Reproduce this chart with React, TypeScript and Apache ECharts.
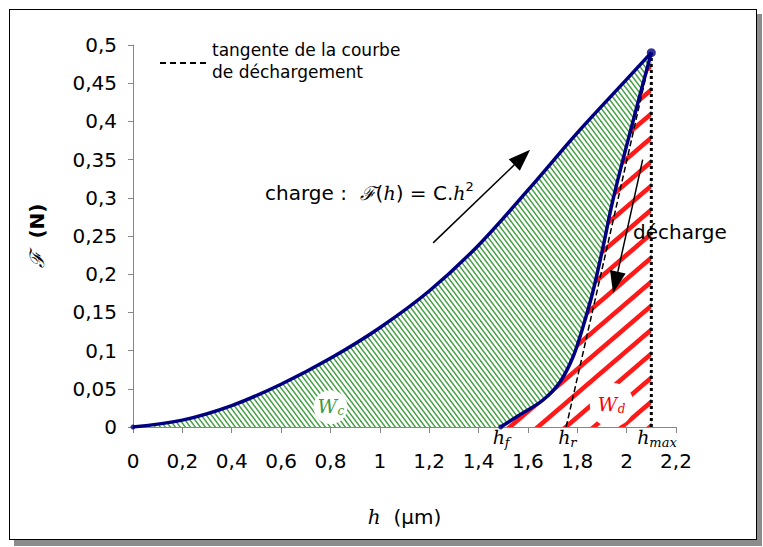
import React, { useEffect, useRef } from "react";
import * as echarts from "echarts";

// Loading curve (charge) : h (µm), F (N)
const hLoad = [0, 0.2, 0.4, 0.6, 0.8, 1.0, 1.2, 1.4, 1.6, 1.8, 2.0, 2.1];
const fLoad = [0, 0.009, 0.028, 0.056, 0.09, 0.13, 0.178, 0.238, 0.31, 0.385, 0.455, 0.49];
// Unloading curve (décharge)
const hUnload = [1.49, 1.57, 1.66, 1.73, 1.783, 1.823, 1.864, 1.904, 1.945, 2.02, 2.1];
const fUnload = [0, 0.0165, 0.035, 0.059, 0.092, 0.131, 0.178, 0.235, 0.298, 0.393, 0.49];
// Tangent to the unloading curve
const hTangent = [2.1, 1.755];
const fTangent = [0.49, 0];
// hmax vertical line
const hMaxLine = [2.1, 2.1];
const fMaxLine = [0, 0.49];
// Labels on the h axis
const hMarkers = [
  { h: 1.49, sub: "f", dx: -8 },
  { h: 1.755, sub: "r", dx: -8 },
  { h: 2.1, sub: "max", dx: -14 },
];
const xMin = 0, xMax = 2.2, xStep = 0.2;
const yMin = 0, yMax = 0.5, yStep = 0.05;

const zip = (a: number[], b: number[]) => a.map((v, i) => [v, b[i]]);
const fmt = (v: number) => String(Math.round(v * 1000) / 1000).replace(".", ",");

function stripes(w: number, h: number, n: number, dir: string, color: string, lw: number) {
  const c = document.createElement("canvas");
  c.width = w;
  c.height = h;
  const ctx = c.getContext("2d")!;
  ctx.fillStyle = "#ffffff";
  ctx.fillRect(0, 0, w, h);
  ctx.strokeStyle = color;
  ctx.lineWidth = lw;
  const p = w / n;
  for (let k = -2 * n; k <= 2 * n; k++) {
    const c0 = k * p;
    ctx.beginPath();
    if (dir === "\\") {
      ctx.moveTo(c0 - w, -h);
      ctx.lineTo(c0 + 2 * w, 2 * h);
    } else {
      ctx.moveTo(c0 - w, 2 * h);
      ctx.lineTo(c0 + 2 * w, -h);
    }
    ctx.stroke();
  }
  return c;
}

const NAVY = "#000080";
const SANS = "DejaVu Sans";
const SERIF = "DejaVu Serif";
const SMOOTH = 0.35;

export default function App() {
  const ref = useRef<HTMLDivElement>(null);
  useEffect(() => {
    if (!ref.current) return;
    const chart = echarts.init(ref.current, undefined, { renderer: "svg" });
    const green = stripes(30, 40, 6, "\\", "#46a046", 1.5);
    const red = stripes(28, 24, 1, "/", "#ff1a1a", 4.6);
    const axisCommon = {
      type: "value" as const,
      splitLine: { show: false },
      axisLine: { show: true, onZero: false, lineStyle: { color: "#868686", width: 1 } },
      axisTick: { show: true, inside: false, lineStyle: { color: "#868686", width: 1 } },
    };
    chart.setOption({
      animation: false,
      grid: { left: 133, right: 87, top: 45, bottom: 120 },
      xAxis: {
        ...axisCommon,
        min: xMin,
        max: xMax,
        interval: xStep,
        axisTick: { ...axisCommon.axisTick, length: 6 },
        axisLabel: { formatter: fmt, fontSize: 20, color: "#000", fontFamily: SANS, margin: 24 },
        name: "{m|ℎ}{t|  (μm)}",
        nameLocation: "middle",
        nameGap: 80,
        nameTextStyle: {
          rich: {
            m: { fontFamily: SERIF, fontStyle: "italic", fontSize: 20, color: "#000" },
            t: { fontFamily: SANS, fontSize: 20, color: "#000" },
          },
        },
      },
      yAxis: {
        ...axisCommon,
        min: yMin,
        max: yMax,
        interval: yStep,
        axisTick: { ...axisCommon.axisTick, length: 5 },
        axisLabel: { formatter: fmt, fontSize: 20, color: "#000", fontFamily: SANS, margin: 16 },
        name: "{m|ℱ}{t|  (N)}",
        nameLocation: "middle",
        nameGap: 86,
        nameTextStyle: {
          rich: {
            m: { fontFamily: SERIF, fontStyle: "italic", fontSize: 20, color: "#000" },
            t: { fontFamily: SANS, fontSize: 20, fontWeight: "bold", color: "#000" },
          },
        },
      },
      series: [
        {
          type: "line",
          data: zip(hLoad, fLoad),
          smooth: SMOOTH,
          symbol: "none",
          lineStyle: { width: 0 },
          areaStyle: { color: { image: green, repeat: "repeat" }, opacity: 1 },
          z: 1,
          silent: true,
        },
        {
          type: "line",
          data: zip(hUnload, fUnload),
          smooth: SMOOTH,
          symbol: "none",
          lineStyle: { width: 0 },
          areaStyle: { color: { image: red, repeat: "repeat" }, opacity: 1 },
          z: 2,
          silent: true,
        },
        {
          type: "line",
          data: zip(hMaxLine, fMaxLine),
          symbol: "none",
          lineStyle: { color: "#000", width: 3, type: [3, 3] },
          z: 3,
        },
        {
          type: "line",
          data: zip(hTangent, fTangent),
          symbol: "none",
          lineStyle: { color: "#000", width: 1.5, type: [6, 3] },
          z: 4,
        },
        {
          type: "line",
          data: zip(hLoad, fLoad),
          smooth: SMOOTH,
          symbol: "none",
          lineStyle: { color: NAVY, width: 3.5 },
          z: 5,
        },
        {
          type: "line",
          data: zip(hUnload, fUnload),
          smooth: SMOOTH,
          symbol: "none",
          lineStyle: { color: NAVY, width: 3.5 },
          z: 5,
        },
        {
          type: "scatter",
          data: [[hLoad[hLoad.length - 1], fLoad[fLoad.length - 1]]],
          symbol: "circle",
          symbolSize: 9,
          itemStyle: { color: NAVY },
          z: 6,
        },
        {
          type: "scatter",
          data: [[hLoad[0], fLoad[0]], [hUnload[0], fUnload[0]]],
          symbol: "circle",
          symbolSize: 5,
          itemStyle: { color: NAVY },
          z: 6,
        },
      ],
    });

    const px = (h: number, f: number) => chart.convertToPixel({ gridIndex: 0 }, [h, f]) as number[];
    const arrow = (a: number[], b: number[], L: number, W: number) => {
      const p0 = px(a[0], a[1]);
      const p1 = px(b[0], b[1]);
      const dx = p1[0] - p0[0], dy = p1[1] - p0[1];
      const len = Math.hypot(dx, dy);
      const ux = dx / len, uy = dy / len;
      const bx = p1[0] - ux * L, by = p1[1] - uy * L;
      const nx = -uy, ny = ux;
      return [
        { type: "line", z: 100, shape: { x1: p0[0], y1: p0[1], x2: bx, y2: by }, style: { stroke: "#000", lineWidth: 1.5 } },
        {
          type: "polygon",
          z: 100,
          shape: { points: [[p1[0], p1[1]], [bx + (nx * W) / 2, by + (ny * W) / 2], [bx - (nx * W) / 2, by - (ny * W) / 2]] },
          style: { fill: "#000" },
        },
      ];
    };
    // main symbol + lowered subscript as two texts
    const subText = (x: number, y: number, main: string, sub: string, color: string, mainSize: number, subSize: number, subDx: number, subDy: number) => [
      {
        type: "text",
        z: 100,
        x,
        y,
        style: { text: main, fontFamily: SERIF, fontStyle: "italic", fontSize: mainSize, fill: color, verticalAlign: "middle" },
      },
      {
        type: "text",
        z: 100,
        x: x + subDx,
        y: y + subDy,
        style: { text: sub, fontFamily: SERIF, fontStyle: "italic", fontSize: subSize, fill: color, verticalAlign: "middle" },
      },
    ];
    const wc = px(0.8, 0.026);
    const wd = px(1.94, 0.029);
    const graphic: any[] = [
      { type: "line", z: 100, shape: { x1: 160, y1: 63, x2: 208, y2: 63 }, style: { stroke: "#000", lineWidth: 2, lineDash: [6, 4] } },
      {
        type: "text",
        z: 100,
        x: 212,
        y: 39,
        style: { text: "tangente de la courbe\nde déchargement", font: `17px "${SANS}"`, fill: "#000", lineHeight: 22 },
      },
      {
        type: "text",
        z: 100,
        x: 265,
        y: 193,
        style: {
          text: "{t|charge :  }{m|ℱ}{t|(}{m|ℎ}{t|) = C.}{m|ℎ}{s|2}",
          verticalAlign: "middle",
          rich: {
            t: { fontFamily: SANS, fontSize: 20, fill: "#000", lineHeight: 26 },
            m: { fontFamily: SERIF, fontStyle: "italic", fontSize: 19, fill: "#000", lineHeight: 26 },
            s: { fontFamily: SANS, fontSize: 13, fill: "#000", verticalAlign: "top", lineHeight: 26, padding: [0, 0, 12, 0] },
          },
        },
      },
      {
        type: "text",
        z: 100,
        x: 633,
        y: 232,
        style: { text: "décharge", font: `20px "${SANS}"`, fill: "#000", verticalAlign: "middle" },
      },
      ...arrow([1.216, 0.241], [1.609, 0.363], 22, 16),
      ...arrow([2.065, 0.35], [1.945, 0.175], 22, 16),
      { type: "circle", z: 90, shape: { cx: wc[0], cy: wc[1], r: 17 }, style: { fill: "#fff" } },
      ...subText(wc[0] - 13, wc[1] - 1, "W", "c", "#3f9a3f", 19, 12, 20, 5),
      { type: "circle", z: 90, shape: { cx: wd[0], cy: wd[1], r: 22 }, style: { fill: "#fff" } },
      ...subText(wd[0] - 14, wd[1] - 1, "W", "d", "#ff0000", 19, 12, 20, 5),
    ];
    hMarkers.forEach((m) => {
      const p = px(m.h, 0);
      graphic.push(...subText(p[0] + m.dx, p[1] + 10, "ℎ", m.sub, "#000", 19, 13, 12, 5));
    });
    chart.setOption({ graphic });
    return () => chart.dispose();
  }, []);

  return (
    <div style={{ position: "fixed", left: 0, top: 0, width: 763, height: 547, background: "#fff" }}>
      <div style={{ position: "absolute", left: 14, top: 14, width: 748, height: 532, background: "#8c8c8c" }} />
      <div
        style={{
          position: "absolute",
          left: 9,
          top: 9,
          width: 746,
          height: 529,
          border: "1px solid #000",
          background: "#fff",
        }}
      />
      <div ref={ref} style={{ position: "absolute", left: 0, top: 0, width: 763, height: 547 }} />
    </div>
  );
}
